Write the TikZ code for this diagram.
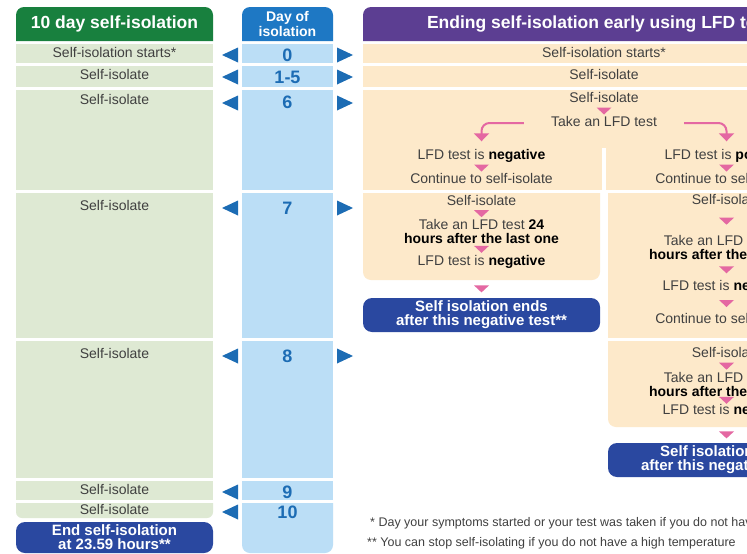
\documentclass[tikz,border=0pt]{standalone}
\usepackage{fontspec}
\setmainfont{Liberation Sans}
\usetikzlibrary{arrows.meta,calc}
\definecolor{gdark}{RGB}{24,128,62}
\definecolor{glight}{RGB}{222,233,211}
\definecolor{bhead}{RGB}{30,120,196}
\definecolor{blight}{RGB}{187,222,246}
\definecolor{bnum}{RGB}{28,108,180}
\definecolor{purp}{RGB}{92,62,146}
\definecolor{cream}{RGB}{253,233,202}
\definecolor{dblue}{RGB}{42,72,160}
\definecolor{pinkc}{RGB}{228,104,162}
\definecolor{txtc}{RGB}{64,64,64}
\newcommand\mybold[1]{\textcolor{black}{\bfseries #1}}
\newcommand\pinkdown[2]{\fill[pinkc] ($(#1)!0.5!(#2)$) ++(-7.5,-3.5) -- ++(15,0) -- ++(-7.5,7) -- cycle;}
\tikzset{
  txt/.style={font=\fontsize{14}{14}\selectfont, text=txtc, inner sep=0pt, text height=10pt, text depth=3pt},
  txtm/.style={font=\fontsize{14}{14}\selectfont, text=txtc, inner sep=0pt, align=center},
  num/.style={font=\fontsize{18}{18}\selectfont\bfseries, text=bnum, inner sep=0pt},
  hdr/.style={font=\fontsize{17.5}{18}\selectfont\bfseries, text=white, inner sep=0pt},
  endbox/.style={fill=dblue, rounded corners=9pt, font=\fontsize{15}{14}\selectfont\bfseries, text=white, align=center, inner sep=0pt},
  foot/.style={font=\fontsize{12.5}{13}\selectfont, text=txtc, anchor=west, inner sep=0pt},
  pinkcurve/.style={draw=pinkc, line width=2pt, rounded corners=8pt, -{Triangle[width=15pt,length=8pt]}}
}
\begin{document}
\begin{tikzpicture}[x=1pt,y=-1pt]
\useasboundingbox (0,0) rectangle (747,554);
\clip (0,0) rectangle (747,554);
\fill[white] (0,0) rectangle (747,554);

% ---------- green column ----------
\fill[gdark,rounded corners=8pt] (16,41) -- (16,7) -- (213,7) -- (213,41);
\foreach \a/\b in {44/63,66/87,90/190,193/338,341/478,481/500}
  \fill[glight] (16,\a) rectangle (213,\b);
\fill[glight,rounded corners=6pt] (16,503) -- (16,518) -- (213,518) -- (213,503);
\node[hdr] (ghead) at (114.5,24) {10 day self-isolation};
\node[txt] (g0) at (114.5,54) {Self-isolation starts*};
\node[txt] (g1) at (114.5,76) {Self-isolate};
\node[txt] (g6) at (114.5,101) {Self-isolate};
\node[txt] (g7) at (114.5,207) {Self-isolate};
\node[txt] (g8) at (114.5,355) {Self-isolate};
\node[txt] (g9) at (114.5,491) {Self-isolate};
\node[txt] (g10) at (114.5,511) {Self-isolate};
\node[endbox, minimum width=197pt, minimum height=31pt] (gend) at (114.5,537.5) {End self-isolation\\at 23.59 hours**};

% ---------- blue column ----------
\fill[bhead,rounded corners=8pt] (242,41) -- (242,7) -- (333,7) -- (333,41);
\foreach \a/\b in {44/63,66/87,90/190,193/338,341/478,481/500}
  \fill[blight] (242,\a) rectangle (333,\b);
\fill[blight,rounded corners=8pt] (242,503) -- (242,553) -- (333,553) -- (333,503);
\node[font=\fontsize{14}{14.5}\selectfont\bfseries, text=white, align=center, inner sep=0pt] (dhead) at (287.5,24) {Day of\\isolation};
\node[num] (d0) at (287.5,55) {0};
\node[num] (d1) at (287.5,77) {1-5};
\node[num] (d6) at (287.5,102) {6};
\node[num] (d7) at (287.5,208) {7};
\node[num] (d8) at (287.5,356) {8};
\node[num] (d9) at (287.5,492) {9};
\node[num] (d10) at (287.5,512) {10};
\foreach \y in {55,77,103,208,356,492,512}
  \fill[bnum] (238,{\y-7.5}) -- (238,{\y+7.5}) -- (222,\y) -- cycle;
\foreach \y in {55,77,103,208,356}
  \fill[bnum] (337,{\y-7.5}) -- (337,{\y+7.5}) -- (353,\y) -- cycle;

% ---------- LFD panel ----------
\fill[purp,rounded corners=8pt] (363,41) -- (363,7) -- (845,7) -- (845,41);
\fill[cream] (363,44) rectangle (845,63);
\fill[cream] (363,66) rectangle (845,87);
\fill[cream] (363,90) rectangle (845,190);
\fill[white] (602,148) rectangle (606,190);
\fill[cream,rounded corners=8pt] (363,193) -- (363,280) -- (600,280) -- (600,193);
\fill[cream] (608,193) rectangle (845,338);
\fill[cream,rounded corners=8pt] (608,341) -- (608,427) -- (845,427) -- (845,341);
\coordinate (boxLbot) at (481.5,280);
\coordinate (boxRbot) at (726.5,427);

\node[hdr] (phead) at (604,24) {Ending self-isolation early using LFD tests};
\node[txt] (p0) at (604,54) {Self-isolation starts*};
\node[txt] (p1) at (604,76) {Self-isolate};
\node[txt] (si6) at (604,99) {Self-isolate};
\node[txt] (take) at (604,123) {Take an LFD test};
\node[txt] (negL) at (481.5,156) {LFD test is \mybold{negative}};
\node[txt] (contL) at (481.5,180) {Continue to self-isolate};
\node[txt] (posR) at (726.5,156) {LFD test is \mybold{positive}};
\node[txt] (contR) at (726.5,180) {Continue to self-isolate};

\node[txt] (siL7) at (481.5,202) {Self-isolate};
\node[txtm] (takeL7) at (481.5,231) {Take an LFD test \mybold{24}\\\mybold{hours after the last one}};
\node[txt] (negL7) at (481.5,262) {LFD test is \mybold{negative}};
\node[endbox, minimum width=237pt, minimum height=34pt] (endL) at (481.5,315) {Self isolation ends\\after this negative test**};

\node[txt] (siR7) at (726.5,201) {Self-isolate};
\node[txtm] (takeR7) at (726.5,247) {Take an LFD test \mybold{24}\\\mybold{hours after the last one}};
\node[txt] (negR7) at (726.5,287) {LFD test is \mybold{negative}};
\node[txt] (contR7) at (726.5,320) {Continue to self-isolate};
\node[txt] (siR8) at (726.5,354) {Self-isolate};
\node[txtm] (takeR8) at (726.5,384) {Take an LFD test \mybold{24}\\\mybold{hours after the last one}};
\node[txt] (negR8) at (726.5,411) {LFD test is \mybold{negative}};
\node[endbox, minimum width=237pt, minimum height=34pt] (endR) at (726.5,460) {Self isolation ends\\after this negative test**};

% pink arrows
\pinkdown{si6.south}{take.north}
\pinkdown{negL.south}{contL.north}
\pinkdown{posR.south}{contR.north}
\pinkdown{siL7.south}{takeL7.north}
\pinkdown{takeL7.south}{negL7.north}
\pinkdown{boxLbot}{endL.north}
\pinkdown{siR7.south}{takeR7.north}
\pinkdown{takeR7.south}{negR7.north}
\pinkdown{negR7.south}{contR7.north}
\pinkdown{siR8.south}{takeR8.north}
\pinkdown{takeR8.south}{negR8.north}
\pinkdown{boxRbot}{endR.north}
\draw[pinkcurve] ($(take.west)+(-27,0)$) -| ($(negL.north)+(0,-8)$);
\draw[pinkcurve] ($(take.east)+(27,0)$) -| ($(posR.north)+(0,-8)$);

% footnotes
\node[foot] (f1) at (370,523) {* Day your symptoms started or your test was taken if you do not have symptoms};
\node[foot] (f2) at (367,543) {** You can stop self-isolating if you do not have a high temperature};
\end{tikzpicture}
\end{document}
